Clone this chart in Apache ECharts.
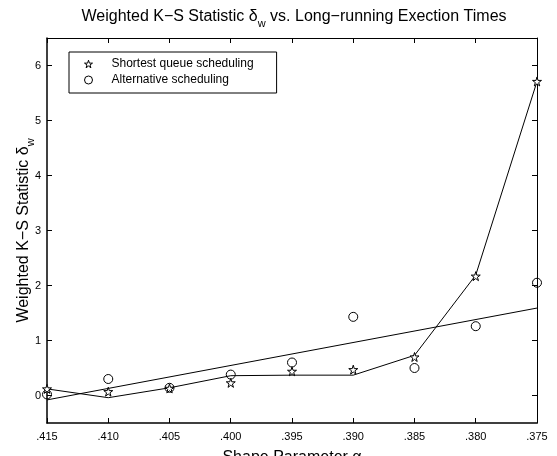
<!DOCTYPE html>
<html>
<head>
<meta charset="utf-8">
<script src="https://cdn.jsdelivr.net/npm/echarts@6/dist/echarts.min.js"></script>
<style>
  html, body { margin: 0; padding: 0; background: #fff; }
  #chart { width: 557px; height: 456px; }
</style>
</head>
<body>
<div id="chart"></div>
<script>
// shape parameter alpha (x axis runs from .415 down to .375)
var alphas = [0.415, 0.410, 0.405, 0.400, 0.395, 0.390, 0.385, 0.380, 0.375];
// measured points
var shortestQueue = [0.12, 0.07, 0.13, 0.23, 0.44, 0.47, 0.70, 2.17, 5.71];
var alternative = [0.02, 0.30, 0.14, 0.38, 0.60, 1.43, 0.50, 1.26, 2.05];
// curve drawn through the shortest queue points
var shortestCurve = [0.12, -0.04, 0.14, 0.36, 0.37, 0.37, 0.73, 2.19, 5.71];
// straight fit for the alternative points (end points)
var fitAlpha = [0.415, 0.375];
var fitValue = [-0.08, 1.59];
var yTicks = [0, 1, 2, 3, 4, 5, 6];

var starPath = "path://M50,0 L61,35 L98,35 L68,57 L79,91 L50,70 L21,91 L32,57 L2,35 L39,35 Z";
var font = "Liberation Sans";

function pairs(xs, ys) {
  return xs.map(function (x, i) { return [x, ys[i]]; });
}

var subRich = {
  a: { fontFamily: font, fontSize: 16, fontWeight: "normal", color: "#000", lineHeight: 20, verticalAlign: "top" },
  s: { fontFamily: font, fontSize: 11, fontWeight: "normal", color: "#000", lineHeight: 20, verticalAlign: "bottom" }
};

var myChart = echarts.init(document.getElementById("chart"));
myChart.setOption({
  animation: false,
  textStyle: { fontFamily: font, color: "#000" },
  title: {
    text: "{a|Weighted K\u2212S Statistic \u03b4}{s|w}{a| vs. Long\u2212running Exection Times}",
    left: 289,
    textAlign: "center",
    top: 4,
    textStyle: { fontWeight: "normal", rich: subRich }
  },
  grid: { left: 47, right: 20, top: 38, bottom: 33, outerBoundsMode: "none" },
  legend: {
    data: ["Shortest queue scheduling", "Alternative scheduling"],
    orient: "vertical",
    left: 69,
    top: 52,
    borderColor: "#000",
    borderWidth: 1,
    padding: [6, 23, 7, 15],
    itemGap: 4,
    itemWidth: 8,
    itemHeight: 8,
    itemStyle: { borderWidth: 1 },
    textStyle: { fontFamily: font, fontSize: 12, color: "#000", padding: [0, 0, 0, 14] }
  },
  xAxis: [
    {
      type: "value",
      inverse: true,
      min: 0.375,
      max: 0.415,
      interval: 0.005,
      splitLine: { show: false },
      axisLine: { onZero: false, lineStyle: { color: "#000", width: 1.5 } },
      axisTick: { inside: true, length: 5, lineStyle: { color: "#000" } },
      axisLabel: {
        color: "#000",
        fontSize: 11,
        margin: 8,
        formatter: function (v) { return v.toFixed(3).replace(/^0/, ""); }
      },
      name: "Shape Parameter \u03b1",
      nameLocation: "middle",
      nameMoveOverlap: false,
      nameGap: 27,
      nameTextStyle: { fontSize: 16, color: "#000" }
    },
    {
      type: "value",
      position: "top",
      inverse: true,
      min: 0.375,
      max: 0.415,
      interval: 0.005,
      splitLine: { show: false },
      axisLine: { onZero: false, lineStyle: { color: "#000", width: 1 } },
      axisTick: { inside: true, length: 5, lineStyle: { color: "#000" } },
      axisLabel: { show: false }
    }
  ],
  yAxis: [
    {
      type: "value",
      min: -0.5,
      max: 6.5,
      splitLine: { show: false },
      axisLine: { onZero: false, lineStyle: { color: "#000", width: 1.5 } },
      axisTick: { inside: true, length: 5, customValues: yTicks, lineStyle: { color: "#000" } },
      axisLabel: { color: "#000", fontSize: 11, margin: 6, customValues: yTicks },
      name: "{a|Weighted K\u2212S Statistic \u03b4}{s|w}",
      nameLocation: "middle",
      nameRotate: 90,
      nameMoveOverlap: false,
      nameGap: 11,
      nameTextStyle: { rich: subRich }
    },
    {
      type: "value",
      position: "right",
      min: -0.5,
      max: 6.5,
      splitLine: { show: false },
      axisLine: { onZero: false, lineStyle: { color: "#000", width: 1 } },
      axisTick: { inside: true, length: 5, customValues: yTicks, lineStyle: { color: "#000" } },
      axisLabel: { show: false }
    }
  ],
  series: [
    {
      name: "shortest curve",
      type: "line",
      data: pairs(alphas, shortestCurve),
      showSymbol: false,
      symbol: "none",
      lineStyle: { color: "#000", width: 1 },
      silent: true
    },
    {
      name: "alternative fit",
      type: "line",
      data: pairs(fitAlpha, fitValue),
      showSymbol: false,
      symbol: "none",
      lineStyle: { color: "#000", width: 1 },
      silent: true
    },
    {
      name: "Shortest queue scheduling",
      type: "scatter",
      data: pairs(alphas, shortestQueue),
      symbol: starPath,
      symbolSize: 9,
      itemStyle: { color: "#fff", opacity: 1, borderColor: "#000", borderWidth: 1 },
      z: 5
    },
    {
      name: "Alternative scheduling",
      type: "scatter",
      data: pairs(alphas, alternative),
      symbol: "circle",
      symbolSize: 9,
      itemStyle: { color: "rgba(255,255,255,0)", opacity: 1, borderColor: "#000", borderWidth: 1 },
      z: 4
    }
  ]
});
</script>
</body>
</html>
